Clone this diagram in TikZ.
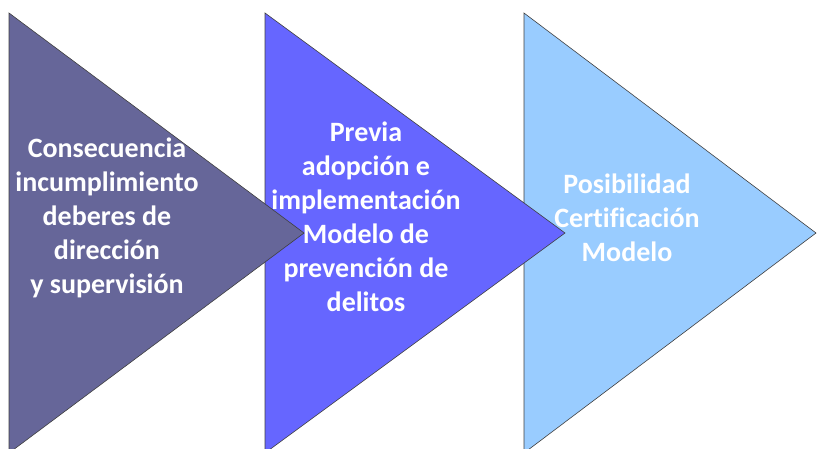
\documentclass[tikz,border=0pt]{standalone}
\usepackage{fontspec}
\setmainfont[Ligatures=NoCommon]{Carlito}
\definecolor{triA}{HTML}{666699}
\definecolor{triB}{HTML}{6666FF}
\definecolor{triC}{HTML}{99CCFF}
\tikzset{
  tri/.style={draw=black!75, line width=0.6pt, line join=miter},
  lbl/.style={text=white, font=\fontsize{28}{34}\selectfont\bfseries, align=center, inner sep=0pt}
}
\begin{document}
\begin{tikzpicture}[x=1pt,y=-1pt]
\useasboundingbox (0,0) rectangle (817,448);
\begin{scope}
\clip (0,0) rectangle (817,448);
% triangle 3
\coordinate (c1) at (524,13);
\coordinate (c2) at (816,233);
\coordinate (c3) at (524,453);
\path[tri, fill=triC] (c1) -- (c2) -- (c3) -- cycle;
\node[lbl, anchor=center] (t3) at (627,218) {Posibilidad\\Certificación\\Modelo};
% triangle 2
\coordinate (b1) at (265,13);
\coordinate (b2) at (565,233);
\coordinate (b3) at (265,453);
\path[tri, fill=triB] (b1) -- (b2) -- (b3) -- cycle;
\node[lbl, anchor=center] (t2) at (366,217) {Previa\\adopción e\\implementación\\Modelo de\\prevención de\\delitos};
% triangle 1
\coordinate (a1) at (9,13);
\coordinate (a2) at (304,233);
\coordinate (a3) at (9,453);
\path[tri, fill=triA] (a1) -- (a2) -- (a3) -- cycle;
\node[lbl, anchor=center] (t1) at (107,218) {Consecuencia\\incumplimiento\\deberes de\\dirección\\y supervisión};
\end{scope}
\end{tikzpicture}
\end{document}
